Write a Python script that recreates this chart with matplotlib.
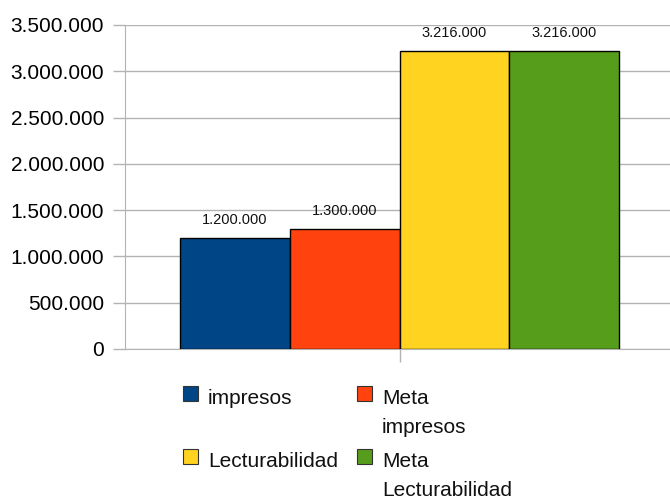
import matplotlib
matplotlib.use("Agg")
import matplotlib.pyplot as plt
from matplotlib.patches import Rectangle
from matplotlib.ticker import FuncFormatter, MultipleLocator

series_names = ["impresos", "Meta impresos", "Lecturabilidad", "Meta Lecturabilidad"]
series_values = [1200000, 1300000, 3216000, 3216000]
series_colors = ["#004586", "#ff420e", "#ffd320", "#579d1c"]
y_max = 3500000
y_step = 500000

plt.rcParams['font.family'] = ['Liberation Sans', 'DejaVu Sans']

W, H = 670, 500
fig = plt.figure(figsize=(W / 100, H / 100), dpi=100)
# plot area in pixels: left 125, right edge ~674 (clipped), top 25, bottom 349
ax = fig.add_axes([125 / W, 1 - 349 / H, 1 - 125 / W, (349 - 25) / H])


def thousands(v, pos):
    return f"{int(v):,}".replace(",", ".")


bar_w = 0.2
n = len(series_values)
for i, (val, col) in enumerate(zip(series_values, series_colors)):
    x = (i - (n - 1) / 2) * bar_w
    ax.bar(x, val, width=bar_w, color=col, edgecolor="black", linewidth=1, zorder=3)
    ax.annotate(thousands(val, None), (x, val), xytext=(0, 13), textcoords="offset points",
                ha="center", va="center", fontsize=10.5, color="#111111")

ax.set_xlim(-0.5, 0.5 - (674 - 670) / 548)
ax.set_ylim(0, y_max)
ax.yaxis.set_major_locator(MultipleLocator(y_step))
ax.yaxis.set_major_formatter(FuncFormatter(thousands))
ax.grid(axis="y", color="#b3b3b3", linewidth=1, zorder=0)
ax.set_xticks([0])
ax.set_xticklabels([""])
ax.tick_params(axis="x", length=9, color="#b3b3b3", width=1)
ax.tick_params(axis="y", length=8.6, color="#b3b3b3", width=1, pad=6.5, labelsize=15)
for s in ["top", "right"]:
    ax.spines[s].set_visible(False)
ax.spines["left"].set_color("#b3b3b3")
ax.spines["bottom"].set_color("#b3b3b3")
ax.set_axisbelow(True)

# legend below, two columns
for i, (name, col) in enumerate(zip(series_names, series_colors)):
    c, r = i % 2, i // 2
    mx = 183 + c * 174
    my = 386 + r * 63
    fig.patches.append(Rectangle((mx / W, 1 - (my + 15) / H), 15 / W, 15 / H,
                                 transform=fig.transFigure, facecolor=col,
                                 edgecolor="#333333", linewidth=0.8))
    fig.text((mx + 25) / W, 1 - (my + 3) / H, name.replace(" ", "\n"),
             ha="left", va="top", fontsize=15, linespacing=1.65, color="#111111")

fig.savefig("out.png", dpi=100)
